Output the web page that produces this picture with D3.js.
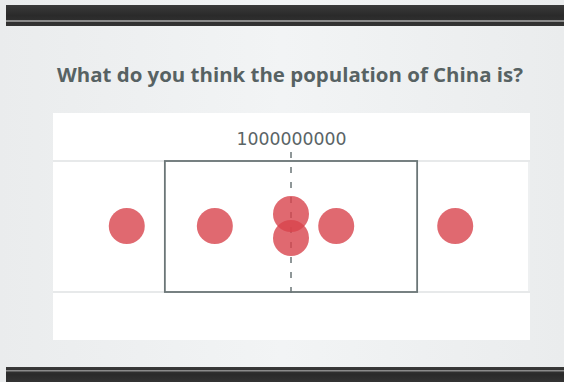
<!DOCTYPE html>
<html>
<head>
<meta charset="utf-8">
<script src="https://cdn.jsdelivr.net/npm/d3@7/dist/d3.min.js"></script>
<style>
html,body{margin:0;padding:0;background:#eceeef;}
svg{display:block;}
</style>
</head>
<body>
<svg id="chart" width="564" height="382"></svg>
<script>
// ---- data ----
const title = "What do you think the population of China is?";
const guesses = [310e6, 680e6, 1000e6, 1000e6, 1190e6, 1690e6];
const boxRange = [470e6, 1530e6];
const referenceValue = [1000e6];
const xDomain = [0, 2e9];

const svg = d3.select("#chart");
const W = 564, H = 382;

// background
const defs = svg.append("defs");
const bg = defs.append("linearGradient").attr("id","bg").attr("x1",0).attr("x2",1).attr("y1",0).attr("y2",0);
bg.append("stop").attr("offset","0").attr("stop-color","#eaeced");
bg.append("stop").attr("offset","0.5").attr("stop-color","#f2f4f5");
bg.append("stop").attr("offset","1").attr("stop-color","#eaeced");
svg.append("rect").attr("width",W).attr("height",H).attr("fill","url(#bg)");

// dark frame bars
const bar = defs.append("linearGradient").attr("id","bar").attr("x1",0).attr("x2",0).attr("y1",0).attr("y2",1);
bar.append("stop").attr("offset","0").attr("stop-color","#3a3a3a");
bar.append("stop").attr("offset","0.5").attr("stop-color","#2a2a2a");
bar.append("stop").attr("offset","1").attr("stop-color","#333");
svg.append("rect").attr("x",6).attr("y",5).attr("width",W-6).attr("height",21).attr("fill","url(#bar)");
svg.append("rect").attr("x",6).attr("y",20).attr("width",W-6).attr("height",2).attr("fill","#8a8a8a");
svg.append("rect").attr("x",6).attr("y",367).attr("width",W-6).attr("height",15).attr("fill","url(#bar)");
svg.append("rect").attr("x",6).attr("y",370).attr("width",W-6).attr("height",1.5).attr("fill","#8a8a8a");

// title
svg.append("text")
  .attr("x",57).attr("y",82)
  .attr("font-family","'Open Sans', sans-serif")
  .attr("font-weight","700")
  .attr("font-size",19.5)
  .attr("textLength",466)
  .attr("lengthAdjust","spacingAndGlyphs")
  .attr("fill","#576263")
  .text(title);

// panel
const panel = {x:53, y:113, w:477, h:227};
svg.append("rect").attr("x",panel.x).attr("y",panel.y).attr("width",panel.w).attr("height",panel.h).attr("fill","#fff");

const band = {top:162, bottom:291};
const x = d3.scaleLinear().domain(xDomain).range([53, 529]);

// band separators
svg.append("rect").attr("x",panel.x).attr("y",band.top-2).attr("width",panel.w).attr("height",2).attr("fill","#e7e9ea");
svg.append("rect").attr("x",panel.x).attr("y",band.bottom).attr("width",panel.w).attr("height",2).attr("fill","#e7e9ea");
svg.append("rect").attr("x",528).attr("y",band.top).attr("width",2).attr("height",band.bottom-band.top).attr("fill","#eef0f1");

// box
svg.append("rect")
  .attr("x",x(boxRange[0])).attr("y",band.top-1)
  .attr("width",x(boxRange[1])-x(boxRange[0]))
  .attr("height",band.bottom-band.top+2)
  .attr("fill","none").attr("stroke","#6b7677").attr("stroke-width",1.8);

// reference dashed line
svg.selectAll("line.ref").data(referenceValue).enter().append("line")
  .attr("class","ref")
  .attr("x1",d=>x(d)).attr("x2",d=>x(d))
  .attr("y1",152).attr("y2",300)
  .attr("stroke","#6b7677").attr("stroke-width",1.5)
  .attr("stroke-dasharray","6,9");

// axis label on top
const axis = d3.axisTop(x).tickValues(referenceValue).tickFormat(d3.format("d")).tickSize(0).tickPadding(0);
const ag = svg.append("g").attr("transform","translate(0,145)").call(axis);
ag.select(".domain").remove();
ag.selectAll("text")
  .attr("font-family","'DejaVu Sans', sans-serif")
  .attr("font-size",17.3)
  .attr("fill","#5a6566")
  .attr("dy",0);

// dots (simple swarm: equal values stacked)
const r = 18, mid = 226;
const counts = d3.rollup(guesses, v=>v.length, d=>d);
const seen = new Map();
const pts = guesses.map(v=>{
  const n = counts.get(v);
  const i = seen.get(v) || 0; seen.set(v,i+1);
  return {v, y: mid + (i-(n-1)/2)*(n>1?-24:0)};
});
svg.selectAll("circle.dot").data(pts).enter().append("circle")
  .attr("class","dot")
  .attr("cx",d=>x(d.v)).attr("cy",d=>d.y).attr("r",r)
  .attr("fill","#d8444c").attr("fill-opacity",0.8);
</script>
</body>
</html>
